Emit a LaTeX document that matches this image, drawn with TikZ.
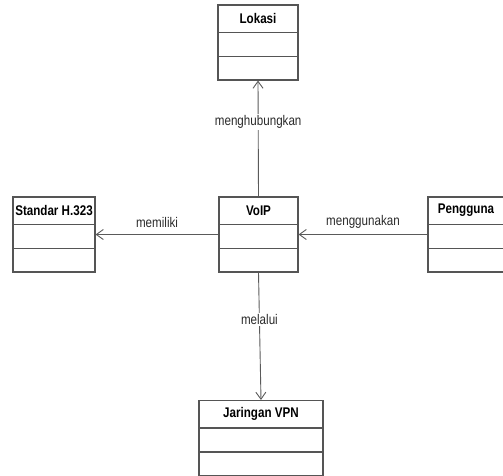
\documentclass[tikz,border=0pt]{standalone}
\usepackage{fontspec}
\setmainfont{Liberation Sans}[FakeStretch=0.83]
\usetikzlibrary{arrows.meta}
\definecolor{boxline}{HTML}{555555}
\definecolor{linkline}{HTML}{5A5A5A}
\definecolor{labeltext}{HTML}{2A2A2A}

\begin{document}
\begin{tikzpicture}[x=1pt,y=-1pt,
  classbox/.style={draw=boxline, line width=1.1pt, minimum height=75pt, inner sep=0pt},
  classname/.style={font=\fontsize{14}{16}\selectfont\bfseries, text=black, inner sep=0pt},
  divider/.style={draw=boxline, line width=1.1pt},
  link/.style={draw=linkline, line width=0.9pt, -{Straight Barb[length=7pt,width=10pt,line width=0.9pt]}},
  linklabel/.style={font=\fontsize{14}{16}\selectfont, text=labeltext, inner sep=1.5pt}]

\useasboundingbox (0,0) rectangle (503,476);

% class boxes (centre positions)
\node[classbox, minimum width=80pt]  (lok) at (258,42.5)  {};
\node[classbox, minimum width=82pt]  (std) at (54,234.5)  {};
\node[classbox, minimum width=79pt]  (voip) at (258.5,234.5) {};
\node[classbox, minimum width=76pt]  (usr) at (466,234.5) {};
\node[classbox, minimum width=124pt] (vpn) at (261,438)   {};

% compartment dividers and class names
\foreach \c/\t in {lok/Lokasi, std/Standar H.323, voip/VoIP, usr/Pengguna, vpn/Jaringan VPN}{
  \draw[divider] ([yshift=-28pt]\c.north west) -- ([yshift=-28pt]\c.north east);
  \draw[divider] ([yshift=-52pt]\c.north west) -- ([yshift=-52pt]\c.north east);
  \node[classname] (\c-name) at ([yshift=-14pt]\c.north) {\t};
}

% associations
\draw[link] (voip.north) -- node[linklabel, fill=white, pos=0.64] (lbl-lok) {menghubungkan} (lok.south);
\draw[link] (voip.west) -- (std.east);
\node[linklabel] (lbl-std) at (157,222) {memiliki};
\draw[link] (usr.west) -- (voip.east);
\node[linklabel] (lbl-usr) at (363,222) {menggunakan};
\draw[link] (voip.south) -- node[linklabel, fill=white, pos=0.37] (lbl-vpn) {melalui} (vpn.north);
\end{tikzpicture}
\end{document}
